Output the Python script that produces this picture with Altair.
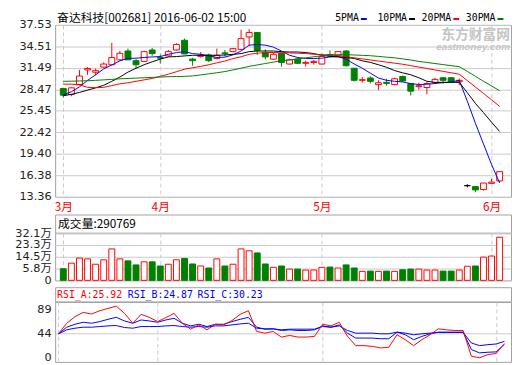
import altair as alt
import pandas as pd

# ---------------- data ----------------
stock_title = "奋达科技[002681] 2016-06-02 15:00"
ma_names = ["5PMA", "10PMA", "20PMA", "30PMA"]
months = ["3月", "4月", "5月", "6月"]
month_start = [0, 12, 32, 53]
price_ticks = [37.53, 34.51, 31.49, 28.47, 25.45, 22.42, 19.40, 16.38, 13.36]
vol_ticks = [5.8, 14.5, 23.3, 32.1]          # 万
vol_floor = -2.97
rsi_ticks = [0, 44, 89]
vol_last = 290769
rsi_names = ["RSI_A", "RSI_B", "RSI_C"]
rsi_last = [25.92, 24.87, 30.23]

opens = [28.6, 27.76, 29.15, 31.2, 30.88, 31.6, 31.93, 32.62, 33.86, 32.5,
         32.4, 34.0, 32.95, 33.17, 34.0, 35.37, 32.72, 33.1, 33.3, 32.8,
         33.6, 33.77, 34.09, 35.84, 36.47, 33.64, 32.72, 33.5, 32.03, 32.72,
         32.13, 32.25, 32.03, 33.35, 33.17, 33.86, 31.44, 29.74, 30.06, 29.14,
         29.45, 29.14, 30.28, 29.28, 28.85, 28.73, 29.41, 30.1, 30.1, 29.55,
         14.93, 14.8, 14.38, 15.25, 15.6]
closes = [27.65, 28.68, 30.34, 31.4, 31.1, 32.03, 32.95, 33.54, 32.62, 31.93,
          33.77, 33.5, 32.85, 33.77, 34.78, 33.45, 32.5, 33.25, 32.5, 33.26,
          33.5, 34.19, 35.6, 36.47, 33.95, 33.03, 33.4, 32.26, 32.62, 32.13,
          32.26, 32.4, 33.09, 33.2, 33.77, 31.8, 29.74, 29.83, 29.6, 29.4,
          29.3, 29.95, 29.65, 28.22, 28.97, 29.28, 29.87, 29.74, 29.6, 29.74,
          14.94, 14.33, 15.3, 15.43, 16.9]
highs = [28.65, 28.75, 31.2, 31.6, 31.4, 32.26, 35.0, 33.86, 34.2, 32.7,
         33.9, 34.3, 33.4, 34.0, 34.95, 35.6, 32.9, 33.7, 33.5, 34.2,
         34.0, 34.3, 36.85, 36.94, 36.5, 34.1, 33.7, 33.6, 32.8, 32.9,
         32.5, 32.6, 33.5, 33.95, 33.85, 34.0, 31.44, 30.2, 30.3, 29.75,
         29.95, 30.1, 30.4, 29.3, 29.4, 29.5, 30.1, 30.2, 30.2, 30.0,
         15.13, 14.8, 15.3, 15.9, 16.95]
lows = [27.35, 27.5, 29.05, 30.5, 30.45, 31.5, 31.9, 32.5, 32.6, 31.34,
        32.3, 33.2, 32.1, 33.1, 33.9, 33.4, 31.8, 32.95, 32.3, 32.7,
        33.1, 33.7, 34.0, 34.55, 33.3, 32.7, 32.6, 31.66, 31.95, 32.0,
        31.66, 31.95, 31.95, 33.1, 33.1, 31.65, 29.6, 29.42, 29.3, 28.36,
        29.0, 29.05, 29.5, 27.6, 28.4, 27.8, 29.3, 29.28, 29.4, 29.05,
        14.68, 14.0, 14.25, 15.25, 15.5]
volumes = [5.65, 9.8, 13.6, 13.0, 9.0, 12.3, 20.4, 13.0, 11.5, 8.5,
           10.8, 10.8, 7.7, 9.0, 12.3, 13.3, 9.2, 7.7, 6.2, 13.0,
           7.7, 9.0, 20.4, 19.0, 17.4, 9.2, 6.7, 7.7, 5.4, 5.4,
           4.7, 4.7, 6.7, 6.9, 6.2, 8.5, 6.2, 3.7, 3.9, 3.7,
           3.9, 3.7, 4.9, 5.4, 5.4, 4.7, 4.7, 3.9, 3.9, 4.7,
           7.5, 7.7, 14.3, 15.1, 29.08]
ma5 = [27.7, 28.13, 28.82, 29.73, 30.52, 31.34, 31.89, 32.48, 32.81, 32.85,
       32.95, 33.03, 33.08, 33.4, 33.64, 33.77, 33.5, 33.4, 33.17, 32.95,
       33.0, 33.31, 33.86, 34.68, 34.78, 34.68, 34.41, 33.85, 33.26, 32.95,
       32.81, 32.81, 32.85, 33.03, 33.08, 32.72, 32.03, 31.44, 30.75, 30.06,
       29.74, 29.6, 29.51, 29.28, 29.14, 29.2, 29.28, 29.42, 29.51, 29.74,
       26.8, 23.7, 20.8, 17.9, 15.3]
ma10 = [27.59, 27.76, 28.04, 28.36, 28.68, 29.04, 29.6, 30.2, 30.89, 31.44,
        31.93, 32.34, 32.72, 33.03, 33.08, 33.17, 33.26, 33.26, 33.26, 33.26,
        33.3, 33.4, 33.5, 33.77, 33.86, 33.86, 33.86, 33.77, 33.72, 33.72,
        33.64, 33.5, 33.26, 33.1, 33.03, 32.95, 32.81, 32.48, 32.26, 31.93,
        31.57, 31.11, 30.79, 30.52, 30.1, 29.6, 29.45, 29.45, 29.45, 29.45,
        28.0, 26.5, 25.2, 23.85, 22.55]
ma20 = [29.2, 29.2, 29.1, 28.75, 28.7, 28.75, 29.0, 29.25, 29.4, 29.6,
        29.8, 30.0, 30.3, 30.6, 30.95, 31.3, 31.5, 31.7, 31.93, 32.2,
        32.45, 32.8, 33.05, 33.4, 33.55, 33.64, 33.65, 33.62, 33.6, 33.55,
        33.5, 33.4, 33.35, 33.3, 33.2, 33.05, 32.9, 32.75, 32.6, 32.45,
        32.3, 32.15, 32.0, 31.8, 31.6, 31.4, 31.2, 31.0, 30.8, 30.6,
        29.7, 28.8, 27.9, 27.0, 26.07]
ma30 = [29.6, 29.62, 29.65, 29.68, 29.74, 29.8, 29.87, 29.95, 30.0, 30.05,
        30.1, 30.15, 30.2, 30.25, 30.27, 30.3, 30.35, 30.5, 30.65, 30.8,
        30.97, 31.2, 31.44, 31.7, 31.9, 32.1, 32.3, 32.5, 32.6, 32.75,
        32.9, 33.05, 33.2, 33.3, 33.35, 33.35, 33.3, 33.25, 33.2, 33.1,
        33.0, 32.9, 32.75, 32.6, 32.4, 32.25, 32.1, 31.95, 31.8, 31.66,
        31.0, 30.3, 29.6, 28.95, 28.27]
rsi_a = [44.0, 63.2, 75.2, 83.0, 80.0, 86.0, 90.2, 94.4, 81.2, 63.2,
         79.4, 74.0, 66.2, 73.4, 81.2, 63.2, 52.4, 60.2, 51.2, 61.4,
         60.2, 68.0, 79.4, 86.0, 48.2, 45.2, 48.2, 38.0, 41.0, 38.0,
         38.0, 39.2, 61.4, 58.4, 65.0, 39.2, 22.4, 22.4, 21.2, 18.2,
         19.4, 42.2, 33.2, 22.4, 33.2, 42.2, 53.0, 51.2, 50.0, 50.0,
         3.2, 0.2, 6.2, 8.0, 25.92]
rsi_b = [44.0, 56.0, 61.4, 65.0, 63.2, 66.2, 70.4, 74.0, 67.4, 63.2,
         69.2, 67.4, 65.0, 69.2, 72.2, 63.2, 58.4, 61.4, 57.2, 61.4,
         61.4, 66.2, 70.4, 74.0, 56.0, 52.4, 53.0, 50.0, 51.2, 50.0,
         50.0, 51.2, 58.4, 56.0, 60.2, 45.2, 36.2, 36.2, 36.2, 35.0,
         35.0, 47.0, 42.2, 33.2, 39.2, 44.0, 47.0, 47.0, 47.0, 47.0,
         15.2, 9.2, 10.4, 11.0, 24.87]
rsi_c = [44.0, 51.2, 54.2, 56.0, 56.0, 57.2, 58.4, 59.0, 55.4, 54.2,
         57.2, 57.2, 57.2, 58.4, 59.0, 57.2, 56.0, 57.2, 56.0, 58.4,
         58.4, 60.2, 62.0, 63.2, 54.2, 53.0, 53.0, 51.2, 52.4, 52.4,
         52.4, 52.4, 57.2, 56.0, 58.4, 50.0, 45.2, 45.2, 45.2, 44.0,
         44.0, 47.0, 45.2, 42.2, 44.0, 45.2, 46.4, 46.4, 46.4, 46.4,
         27.2, 22.4, 24.2, 25.4, 30.23]

# ---------------- styling ----------------
RED, GREEN, BLUE, BLACK = "#ff0000", "#008000", "#0000ff", "#000000"
GRID = "#cacaca"
BORDER = "#a0a0a0"
NUM_FONT = "DejaVu Sans, Noto Sans CJK SC"
CJK_FONT = "Noto Sans CJK SC"
MONO_FONT = "DejaVu Sans Mono"
W = 464
n = len(opens)

df = pd.DataFrame({"i": list(range(n)), "open": opens, "close": closes,
                   "high": highs, "low": lows, "vol": volumes})
diff = df["close"] - df["open"]
df["c"] = [BLACK if abs(d) < 0.02 else (RED if d > 0 else GREEN) for d in diff]
df["f"] = [BLACK if abs(d) < 0.02 else ("#ffffff" if d > 0 else GREEN) for d in diff]
df["vc"] = [RED if d >= 0 else GREEN for d in diff]
df["vf"] = ["#ffffff" if d >= 0 else GREEN for d in diff]

ma_df = pd.concat([pd.DataFrame({"i": list(range(n)), "ma": name, "v": vals})
                   for name, vals in zip(ma_names, [ma5, ma10, ma20, ma30])])
rsi_df = pd.concat([pd.DataFrame({"i": list(range(n)), "r": name, "v": vals})
                    for name, vals in zip(rsi_names, [rsi_a, rsi_b, rsi_c])])

xscale = alt.Scale(domain=[-0.4, 54.8], nice=False, zero=False)
month_expr = " : ".join(f"datum.value == {i} ? '{m}'" for i, m in zip(month_start, months)) + " : ''"

price_xaxis = alt.Axis(values=month_start, labelExpr=month_expr, grid=True, gridDash=[4, 3],
                       gridColor=GRID, ticks=False, domain=False, labelColor=RED,
                       labelFont=CJK_FONT, labelFontSize=12, labelPadding=5,
                       labelFlush=False, labelOverlap=False, tickCount=len(month_start),
                       title=None)
sub_xaxis = alt.Axis(values=month_start, labels=False, grid=True, gridDash=[4, 3],
                     gridColor=GRID, ticks=False, domain=False, tickCount=len(month_start),
                     title=None)


def yaxis(values, **kw):
    return alt.Axis(values=values, tickCount=len(values), ticks=False, domain=False, title=None,
                    labelFont=NUM_FONT, labelFontSize=11.5, labelColor="#222",
                    labelPadding=4, minExtent=47, maxExtent=47,
                    labelOverlap=False, labelFlush=False, **kw)


# ---------------- price panel ----------------
yscale = alt.Scale(domain=[13.36, 37.53], nice=False, zero=False)
price_yaxis = yaxis(price_ticks, format=".2f", grid=True, gridColor=GRID)
base = alt.Chart(df).encode(x=alt.X("i:Q", scale=xscale, axis=price_xaxis))
wick = base.mark_rule(strokeWidth=1).encode(
    y=alt.Y("low:Q", scale=yscale, axis=price_yaxis),
    y2="high:Q",
    color=alt.Color("c:N", scale=None),
)
body = base.mark_bar(size=6, strokeWidth=1).encode(
    y=alt.Y("open:Q", scale=yscale, axis=price_yaxis), y2="close:Q",
    fill=alt.Fill("f:N", scale=None), stroke=alt.Stroke("c:N", scale=None),
)
lines = alt.Chart(ma_df).mark_line(strokeWidth=1).encode(
    x=alt.X("i:Q", scale=xscale, axis=price_xaxis),
    y=alt.Y("v:Q", scale=yscale, axis=price_yaxis),
    color=alt.Color("ma:N", scale=alt.Scale(domain=ma_names, range=[BLUE, BLACK, RED, GREEN]),
                    legend=None),
    detail="ma:N",
)

overlays = []
title_y = -7
overlays.append(alt.Chart(pd.DataFrame({"t": [stock_title]})).mark_text(
    align="left", baseline="middle", font=CJK_FONT, fontSize=12, color=BLACK
).encode(x=alt.value(2), y=alt.value(title_y), text="t:N"))
leg_x = [285, 328, 373, 418]
for name, col, lx in zip(ma_names, [BLUE, BLACK, RED, GREEN], leg_x):
    overlays.append(alt.Chart(pd.DataFrame({"t": [name]})).mark_text(
        align="left", baseline="middle", font=MONO_FONT, fontSize=10, color=BLACK
    ).encode(x=alt.value(lx), y=alt.value(title_y), text="t:N"))
    tw = 6.05 * len(name)
    overlays.append(alt.Chart(pd.DataFrame({"t": [name]})).mark_rule(
        color=col, strokeWidth=2
    ).encode(x=alt.value(lx + tw + 2), x2=alt.value(lx + tw + 8), y=alt.value(title_y + 1)))
overlays.append(alt.Chart(pd.DataFrame({"t": ["东方财富网"]})).mark_text(
    align="right", baseline="middle", font=CJK_FONT, fontSize=14, fontWeight="bold",
    color="#c4c4c4").encode(x=alt.value(W - 1), y=alt.value(10), text="t:N"))
overlays.append(alt.Chart(pd.DataFrame({"t": ["eastmoney.com"]})).mark_text(
    align="right", baseline="middle", font="Liberation Sans", fontSize=10, fontWeight="bold",
    fontStyle="italic", color="#c4c4c4").encode(x=alt.value(W - 1), y=alt.value(23), text="t:N"))

price = alt.layer(wick, body, lines, *overlays).properties(width=W, height=175)

# ---------------- volume panel ----------------
vol_header = alt.Chart(pd.DataFrame({"t": [f"成交量:{vol_last}"]})).mark_text(
    align="left", baseline="middle", font=CJK_FONT, fontSize=12, color=BLACK
).encode(x=alt.value(3), y=alt.value(9.5), text="t:N").properties(width=W, height=18.5)

vol = alt.Chart(df).mark_bar(size=6, strokeWidth=1).encode(
    x=alt.X("i:Q", scale=xscale, axis=sub_xaxis),
    y=alt.Y("vol:Q", scale=alt.Scale(domain=[vol_floor, vol_ticks[-1]], nice=False, zero=False),
            axis=yaxis([vol_floor] + vol_ticks, grid=True, gridColor=GRID,
                       labelExpr="datum.value < 0 ? '0' : datum.value + '万'")),
    y2=alt.datum(vol_floor),
    fill=alt.Fill("vf:N", scale=None), stroke=alt.Stroke("vc:N", scale=None),
).properties(width=W, height=48)

# ---------------- RSI panel ----------------
rsi_cols = [RED, BLUE, BLUE]
rsi_x = [2, 74, 145]
hdr_layers = []
for name, val, col, rx in zip(rsi_names, rsi_last, rsi_cols, rsi_x):
    hdr_layers.append(alt.Chart(pd.DataFrame({"t": [f"{name}:{val:.2f}"]})).mark_text(
        align="left", baseline="middle", font=MONO_FONT, fontSize=10, color=col
    ).encode(x=alt.value(rx), y=alt.value(7.5), text="t:N"))
rsi_header = alt.layer(*hdr_layers).properties(width=W, height=14.5)

rscale = alt.Scale(domain=[-7.2, 102], nice=False, zero=False)
rsi_yaxis = yaxis(rsi_ticks, grid=False)
rsi_base = alt.Chart(rsi_df).encode(
    x=alt.X("i:Q", scale=xscale, axis=sub_xaxis),
    y=alt.Y("v:Q", scale=rscale, axis=rsi_yaxis),
    color=alt.Color("r:N", scale=alt.Scale(domain=rsi_names, range=rsi_cols), legend=None),
    detail="r:N",
)
rsi_grid = alt.Chart(pd.DataFrame({"g": [rsi_ticks[1]]})).mark_rule(
    color=GRID, strokeWidth=1).encode(y=alt.Y("g:Q", scale=rscale, axis=rsi_yaxis))
rsi_blue = rsi_base.transform_filter(alt.datum.r != "RSI_A").mark_line(strokeWidth=1)
rsi_red = rsi_base.transform_filter(alt.datum.r == "RSI_A").mark_line(strokeWidth=1)
rsi = alt.layer(rsi_grid, rsi_blue, rsi_red).properties(width=W, height=61)


# ---------------- layout ----------------
def spacer(h):
    return alt.Chart(pd.DataFrame({"t": [""]})).mark_text().encode(
        x=alt.value(0), y=alt.value(0), text="t:N"
    ).properties(width=W, height=h, view=alt.ViewBackground(strokeOpacity=0))


chart = alt.vconcat(price, spacer(18), vol_header, vol, spacer(6.5), rsi_header, rsi,
                    spacing=0, bounds="flush").resolve_scale(
    x="independent", y="independent", color="independent"
).properties(padding=0, background="#ffffff").configure_view(
    stroke=BORDER, strokeWidth=1
)

chart.save("out.html", embed_options={"renderer": "svg", "actions": False})
